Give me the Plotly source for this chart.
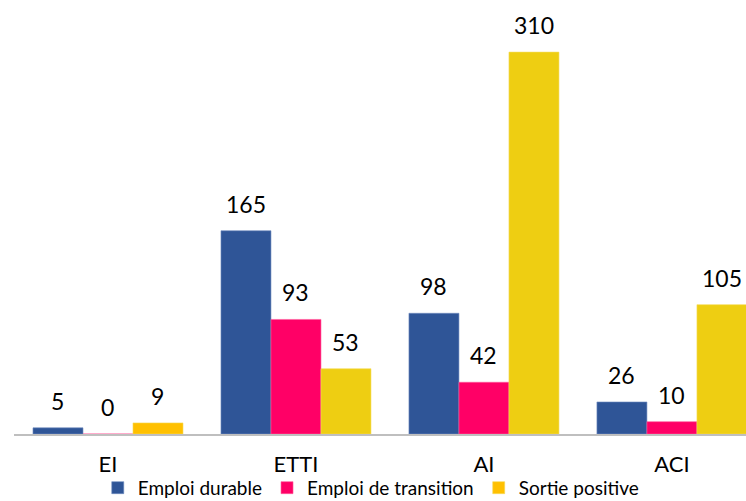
import plotly.graph_objects as go

# Categories and series values
categories = ["EI", "ETTI", "AI", "ACI"]
emploi_durable = [5, 165, 98, 26]
emploi_transition = [0, 93, 42, 10]
sortie_positive = [9, 53, 310, 105]

series_names = ["Emploi durable", "Emploi de transition", "Sortie positive"]
series_values = [emploi_durable, emploi_transition, sortie_positive]
series_colors = [
    "#2F5597",
    "#FF0066",
    ["#FFC000", "#EECE12", "#EECE12", "#EECE12"],
]
edge_colors = ["#6F8CC0", "#FF5A9A", "#F5DC5A"]

FONT = "Lato"

fig = go.Figure()
for name, vals, col, edge in zip(series_names, series_values, series_colors, edge_colors):
    fig.add_trace(go.Bar(
        x=categories, y=vals, name=name,
        marker=dict(color=col, line=dict(color=edge, width=0.6)),
        hoverinfo="x+y+name",
    ))

# Value labels above each bar
offsets = [-50, 0, 50]
for vals, dx in zip(series_values, offsets):
    for cat, v in zip(categories, vals):
        fig.add_annotation(
            x=cat, y=v, text=str(v), showarrow=False,
            xref="x", yref="y", xshift=dx, yshift=27,
            yanchor="middle", xanchor="center",
            font=dict(family=FONT, size=23, color="#000000"),
        )

fig.update_layout(
    width=746, height=501,
    margin=dict(l=14, r=0, t=0, b=67, autoexpand=False),
    paper_bgcolor="white", plot_bgcolor="white",
    barmode="group", bargap=0.202, bargroupgap=0,
    font=dict(family=FONT, color="#000000"),
    showlegend=True,
    legend=dict(
        orientation="h", x=0.497, xanchor="center", xref="container",
        y=-0.124, yanchor="middle", yref="paper",
        font=dict(family=FONT, size=19),
        itemwidth=30, tracegroupgap=0,
        bgcolor="rgba(0,0,0,0)",
    ),
    xaxis=dict(
        range=[-0.5, 3.394], showgrid=False, zeroline=False,
        showline=True, linecolor="#BFBFBF", linewidth=2,
        ticks="", tickfont=dict(family=FONT, size=22),
        ticklabelstandoff=10, fixedrange=True,
    ),
    yaxis=dict(
        range=[0, 352.3], showgrid=False, zeroline=False,
        showline=False, showticklabels=False, ticks="", fixedrange=True,
    ),
)

fig.write_html("out.html")
